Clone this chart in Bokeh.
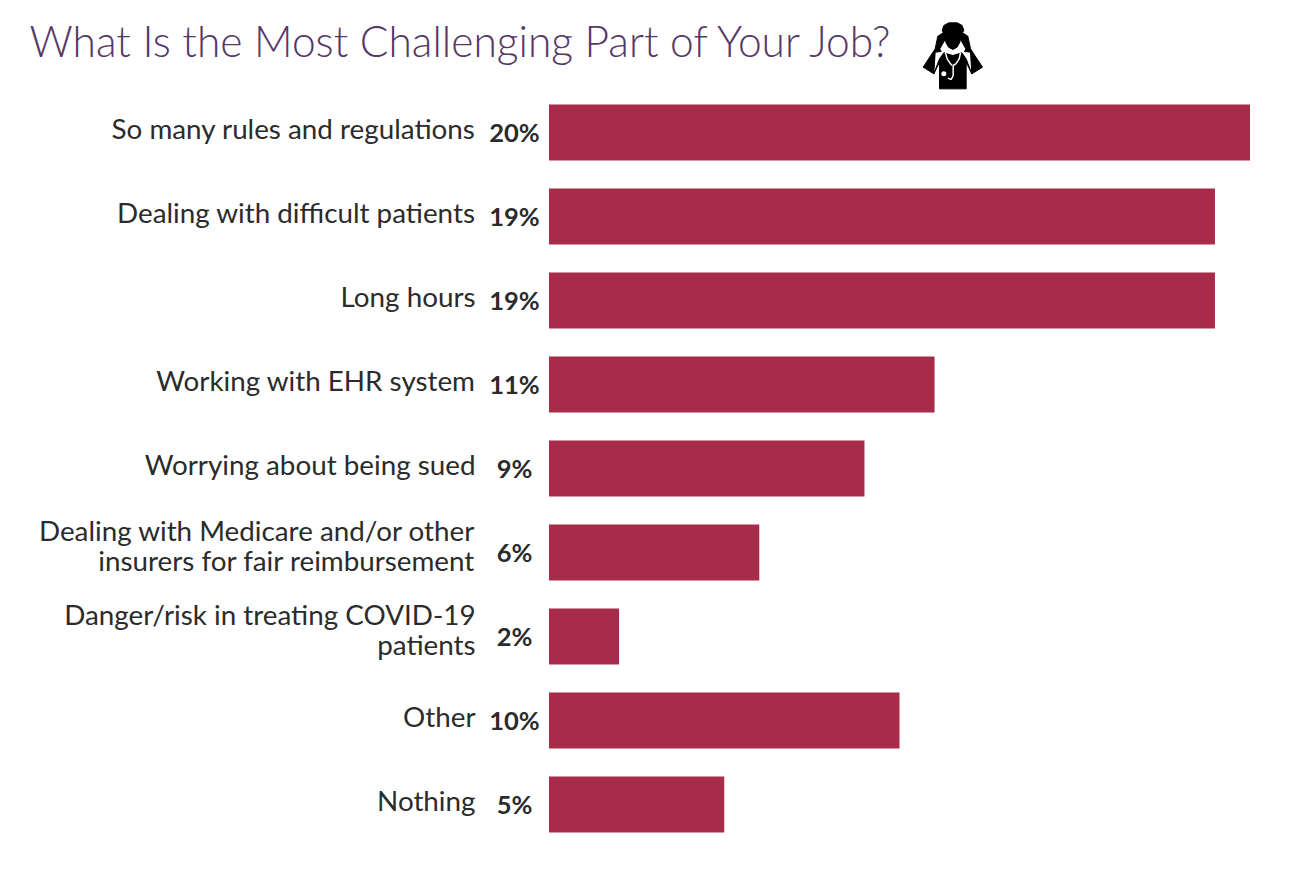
from bokeh.plotting import figure
from bokeh.models import Range1d
from bokeh.core.properties import value
from bokeh.embed import file_html
from bokeh.resources import INLINE

title_text = "What Is the Most Challenging Part of Your Job?"
categories = ["So many rules and regulations", "Dealing with difficult patients", "Long hours",
              "Working with EHR system", "Worrying about being sued",
              "Dealing with Medicare and/or other\ninsurers for fair reimbursement",
              "Danger/risk in treating COVID-19\npatients", "Other", "Nothing"]
values = [20, 19, 19, 11, 9, 6, 2, 10, 5]
value_labels = ["20%", "19%", "19%", "11%", "9%", "6%", "2%", "10%", "5%"]

W, H = 1280, 870
PX_PER_PCT = 35.05
ZERO_X = 548.5
ROW = 84
FIRST_Y = 132

p = figure(width=W, height=H, output_backend="svg", toolbar_location=None,
           x_range=Range1d(-ZERO_X / PX_PER_PCT, (W - ZERO_X) / PX_PER_PCT),
           y_range=Range1d((H - FIRST_Y) / ROW, -FIRST_Y / ROW),
           min_border=0, outline_line_color=None, background_fill_color="white")
p.xaxis.visible = False
p.yaxis.visible = False
p.grid.visible = False

def X(px):
    return (px - ZERO_X) / PX_PER_PCT
def Y(py):
    return (py - FIRST_Y) / ROW

idx = list(range(len(categories)))
p.hbar(y=idx, left=0, right=values, height=56 / ROW, fill_color="#A92B4A", line_color=None)

label_y = [i - (7 if "\n" in categories[i] else 4) / ROW for i in idx]
p.text(x=[X(475)] * 9, y=label_y, text=categories, text_align="right",
       text_baseline="middle", text_font=value("Lato"), text_font_size="27.8px",
       text_color="#2B2B2B", text_line_height=0.88)
p.text(x=[X(514)] * 9, y=[i - 1 / ROW for i in idx], text=value_labels, text_align="center",
       text_baseline="middle", text_font=value("Lato"), text_font_style="bold", text_font_size="25.5px",
       text_color="#2B2B2B")
p.text(x=[X(29)], y=[Y(40)], text=[title_text], text_align="left", text_baseline="middle",
       text_font=value("Lato Light"), text_font_size="42.5px", text_color="#553868")

# icon: outlines given in the zoomed pixel units of the small figure
def ix(v): return [X(900 + a / 3) for a in v]
def iy(v): return [Y(5 + a / 3) for a in v]

p.patch(ix([112, 128, 136, 118, 122, 104, 100, 68, 104]),
        iy([92, 82, 98, 130, 138, 140, 205, 185, 130]), color="black")
p.patch(ix([202, 186, 178, 196, 192, 210, 214, 246, 210]),
        iy([92, 82, 98, 130, 138, 140, 205, 185, 130]), color="black")
p.patch(ix([100, 117, 130, 157, 184, 197, 214, 197, 197, 117, 117]),
        iy([205, 160, 142, 150, 142, 160, 205, 170, 250, 250, 170]), color="black")
p.patch(ix([125, 130, 145, 170, 185, 190, 182, 178, 170, 157, 144, 136, 132]),
        iy([75, 60, 52, 52, 60, 75, 88, 110, 125, 132, 125, 110, 88]), color="black")
p.line(ix([135, 140, 150, 155]), iy([142, 160, 175, 180]), line_color="white", line_width=1.5)
p.line(ix([180, 176, 166, 158, 158, 152, 142]), iy([142, 160, 175, 180, 210, 222, 218]),
       line_color="white", line_width=1.5)
p.scatter(ix([130]), iy([205]), size=5, fill_color="white", line_color=None)

open("out.html", "w").write(file_html(p, INLINE))
